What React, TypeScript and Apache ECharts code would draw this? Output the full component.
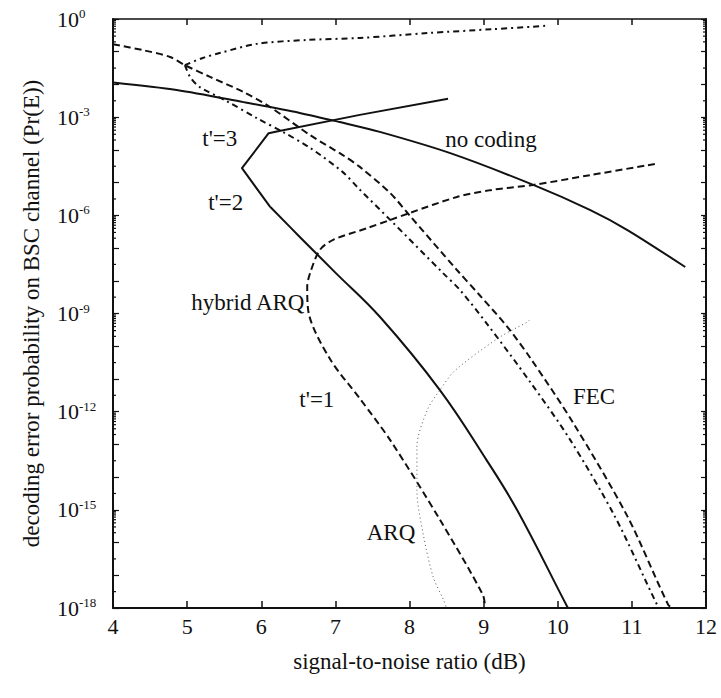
import React, { useEffect, useRef } from "react";
import * as echarts from "echarts";

// x: signal-to-noise ratio (dB); y: log10 of decoding error probability Pr(E)
const X_TICKS_MIN = 4;
const X_TICKS_MAX = 12;
const Y_LOG_MIN = -18;
const Y_LOG_MAX = 0;

const NO_CODING_SNR = [4, 4.86, 5.76, 6.52, 7.06, 7.6, 8.55, 9.67, 10.44, 10.94, 11.72];
const NO_CODING_LOGP = [-1.94, -2.17, -2.54, -2.87, -3.15, -3.45, -4.1, -5.07, -5.84, -6.45, -7.58];

const SOLID_UPPER_SNR = [8.52, 7.33, 6.21, 6.1, 5.74, 6.12];
const SOLID_UPPER_LOGP = [-2.44, -2.93, -3.44, -3.49, -4.56, -5.74];
const SOLID_LOWER_SNR = [6.12, 6.52, 7.0, 7.6, 8.41, 9.04, 9.45, 10.13, 10.14];
const SOLID_LOWER_LOGP = [-5.74, -6.66, -7.75, -9.1, -11.34, -13.48, -15.0, -17.97, -18];

const FEC_DASHED_SNR = [4, 4.4, 4.77, 4.97, 5.31, 5.76, 6.12, 6.66, 7.1, 7.33, 7.74, 8.0, 8.64, 8.95, 9.32, 9.63, 10.21, 10.94, 11.49, 11.55];
const FEC_DASHED_LOGP = [-0.77, -0.95, -1.16, -1.41, -1.77, -2.23, -2.69, -3.55, -4.16, -4.52, -5.32, -6.0, -7.67, -8.45, -9.41, -10.36, -12.35, -15.2, -17.9, -18];

const FEC_DASHDOT_SNR = [4.97, 5.04, 5.17, 5.51, 5.94, 6.29, 6.66, 7.1, 7.31, 7.74, 8.45, 8.68, 9.04, 9.63, 10.17, 10.77, 11.34, 11.38];
const FEC_DASHDOT_LOGP = [-1.41, -1.77, -2.08, -2.48, -3.03, -3.45, -3.94, -4.68, -5.17, -6.14, -7.76, -8.28, -9.3, -11.1, -12.87, -15.2, -17.9, -18];

const RISING_DASHDOT_SNR = [4.97, 5.21, 5.44, 5.94, 6.62, 7.33, 8.24, 9.13, 9.83];
const RISING_DASHDOT_LOGP = [-1.41, -1.19, -1.04, -0.76, -0.64, -0.58, -0.43, -0.31, -0.21];

const HYBRID_SNR = [11.31, 10.44, 9.67, 9.09, 8.64, 8.0, 7.74, 7.43, 6.97, 6.79, 6.66, 6.62, 6.64, 6.93, 7.33, 7.74, 8.41, 8.99, 9.02];
const HYBRID_LOGP = [-4.43, -4.77, -5.07, -5.23, -5.44, -5.93, -6.14, -6.39, -6.75, -7.06, -7.76, -8.19, -8.99, -10.4, -11.6, -12.87, -15.3, -17.6, -18];

const ARQ_SNR = [9.62, 9.59, 9.22, 8.62, 8.41, 8.24, 8.1, 8.1, 8.19, 8.32, 8.46, 8.5];
const ARQ_LOGP = [-9.2, -9.26, -9.72, -10.73, -11.34, -11.95, -13.08, -14.4, -15.8, -17.05, -17.76, -18];

const ANNOTATION_TEXT = ["t'=3", "t'=2", "hybrid ARQ", "t'=1", "no coding", "FEC", "ARQ"];
const ANNOTATION_SNR = [5.44, 5.52, 5.82, 6.75, 9.1, 10.49, 7.75];
const ANNOTATION_LOGP = [-3.64, -5.62, -8.65, -11.64, -3.67, -11.55, -15.68];

const Y_LABEL_EVERY = 3;
const MINOR_FACTORS = [2, 3, 4, 5, 6, 7, 8, 9];

const SERIF = "Liberation Serif";
const INK = "#111";

function pairs(xs: number[], ys: number[]) {
  return xs.map((x, i) => [x, ys[i]]);
}

function buildMinorTicks() {
  const out: number[][] = [];
  for (let e = Y_LOG_MAX; e > Y_LOG_MIN; e -= 1) {
    const inCluster = (Y_LOG_MAX - e) % Y_LABEL_EVERY === 0;
    if (inCluster) {
      MINOR_FACTORS.forEach((k) => {
        const v = e - 1 + Math.log10(k);
        out.push([0, v]);
        out.push([1, v]);
      });
    } else {
      out.push([0, e - 0.5]);
      out.push([1, e - 0.5]);
    }
  }
  return out;
}

export default function App() {
  const ref = useRef<HTMLDivElement | null>(null);

  useEffect(() => {
    if (!ref.current) return;
    const chart = echarts.init(ref.current, undefined, { renderer: "svg" });

    const lineBase = {
      type: "line" as const,
      symbol: "none",
      showSymbol: false,
      xAxisIndex: 0,
      yAxisIndex: 0,
      silent: true,
      z: 3,
    };

    const option: any = {
      animation: false,
      backgroundColor: "#ffffff",
      textStyle: { fontFamily: SERIF },
      grid: { left: 113, right: 15, top: 19, bottom: 90, containLabel: false },
      xAxis: [
        {
          type: "value",
          position: "bottom",
          min: X_TICKS_MIN,
          max: X_TICKS_MAX,
          interval: 1,
          axisLine: { show: true, onZero: false, lineStyle: { color: INK, width: 2 } },
          axisTick: { show: true, inside: true, length: 7, lineStyle: { color: INK, width: 1.5 } },
          axisLabel: { margin: 7, fontSize: 22, fontFamily: SERIF, color: INK },
          splitLine: { show: false },
          name: "signal-to-noise ratio (dB)",
          nameLocation: "middle",
          nameGap: 42,
          nameTextStyle: { fontSize: 23, fontFamily: SERIF, color: INK },
        },
        {
          type: "value",
          position: "top",
          min: X_TICKS_MIN,
          max: X_TICKS_MAX,
          interval: 1,
          axisLine: { show: true, onZero: false, lineStyle: { color: INK, width: 1.5 } },
          axisTick: { show: true, inside: true, length: 6, lineStyle: { color: INK, width: 1.5 } },
          axisLabel: { show: false },
          splitLine: { show: false },
        },
      ],
      yAxis: [
        {
          type: "value",
          position: "left",
          min: Y_LOG_MIN,
          max: Y_LOG_MAX,
          interval: 1,
          axisLine: { show: true, onZero: false, lineStyle: { color: INK, width: 2 } },
          axisTick: { show: true, inside: true, length: 6, lineStyle: { color: INK, width: 1.2 } },
          axisLabel: {
            align: "left",
            margin: 56,
            fontFamily: SERIF,
            formatter: (v: number) =>
              Math.round(v) % Y_LABEL_EVERY === 0 ? `{b|10}{s|${Math.round(v) === 0 ? "0" : Math.round(v)}}` : "",
            rich: {
              b: { fontSize: 22, fontFamily: SERIF, color: INK, lineHeight: 24 },
              s: { fontSize: 13, fontFamily: SERIF, color: INK, lineHeight: 13, verticalAlign: "top" },
            },
          },
          splitLine: { show: false },
          name: "decoding error probability on BSC channel (Pr(E))",
          nameLocation: "middle",
          nameGap: 70,
          nameRotate: 90,
          nameTextStyle: { fontSize: 23, fontFamily: SERIF, color: INK },
        },
        {
          type: "value",
          position: "right",
          min: Y_LOG_MIN,
          max: Y_LOG_MAX,
          interval: 1,
          axisLine: { show: true, onZero: false, lineStyle: { color: INK, width: 2 } },
          axisTick: { show: true, inside: true, length: 5, lineStyle: { color: INK, width: 1.2 } },
          axisLabel: { show: false },
          splitLine: { show: false },
        },
      ],
      series: [
        {
          ...lineBase,
          name: "no coding",
          smooth: 0.3,
          data: pairs(NO_CODING_SNR, NO_CODING_LOGP),
          lineStyle: { color: INK, width: 2, type: "solid" },
        },
        {
          ...lineBase,
          name: "t'=3 / t'=2 upper",
          smooth: false,
          data: pairs(SOLID_UPPER_SNR, SOLID_UPPER_LOGP),
          lineStyle: { color: INK, width: 2, type: "solid", join: "round" },
        },
        {
          ...lineBase,
          name: "t'=2 lower",
          smooth: 0.4,
          data: pairs(SOLID_LOWER_SNR, SOLID_LOWER_LOGP),
          lineStyle: { color: INK, width: 2, type: "solid" },
        },
        {
          ...lineBase,
          name: "FEC dashed",
          smooth: 0.3,
          data: pairs(FEC_DASHED_SNR, FEC_DASHED_LOGP),
          lineStyle: { color: INK, width: 2, type: [7, 4] },
        },
        {
          ...lineBase,
          name: "FEC dash-dot",
          smooth: 0.3,
          data: pairs(FEC_DASHDOT_SNR, FEC_DASHDOT_LOGP),
          lineStyle: { color: INK, width: 2, type: [6, 4, 2, 4] },
        },
        {
          ...lineBase,
          name: "rising dash-dot",
          smooth: 0.3,
          data: pairs(RISING_DASHDOT_SNR, RISING_DASHDOT_LOGP),
          lineStyle: { color: INK, width: 2, type: [6, 4, 2, 4] },
        },
        {
          ...lineBase,
          name: "hybrid ARQ t'=1",
          smooth: 0.3,
          data: pairs(HYBRID_SNR, HYBRID_LOGP),
          lineStyle: { color: INK, width: 2, type: [7, 4] },
        },
        {
          ...lineBase,
          name: "ARQ",
          smooth: 0.3,
          data: pairs(ARQ_SNR, ARQ_LOGP),
          lineStyle: { color: "#555", width: 1, type: [1, 3] },
        },
        {
          type: "custom",
          name: "minor ticks",
          silent: true,
          xAxisIndex: 0,
          yAxisIndex: 0,
          clip: false,
          data: buildMinorTicks(),
          renderItem: (params: any, api: any) => {
            const side = api.value(0);
            const v = api.value(1);
            const p = api.coord([side === 0 ? X_TICKS_MIN : X_TICKS_MAX, v]);
            const len = 3;
            return {
              type: "line",
              shape: { x1: p[0], y1: p[1], x2: side === 0 ? p[0] + len : p[0] - len, y2: p[1] },
              style: { stroke: INK, lineWidth: 1.2 },
            };
          },
        },
        {
          type: "custom",
          name: "annotations",
          silent: true,
          xAxisIndex: 0,
          yAxisIndex: 0,
          clip: false,
          z: 5,
          data: ANNOTATION_TEXT.map((t, i) => [ANNOTATION_SNR[i], ANNOTATION_LOGP[i], i]),
          renderItem: (params: any, api: any) => {
            const p = api.coord([api.value(0), api.value(1)]);
            const idx = api.value(2);
            return {
              type: "text",
              x: p[0],
              y: p[1],
              style: {
                text: ANNOTATION_TEXT[idx],
                fontSize: 23,
                fontFamily: SERIF,
                fill: INK,
                align: "center",
                verticalAlign: "middle",
              },
            };
          },
        },
      ],
    };

    chart.setOption(option);
    return () => {
      chart.dispose();
    };
  }, []);

  return (
    <div
      ref={ref}
      style={{ position: "fixed", left: 0, top: 0, width: 721, height: 698, background: "#fff" }}
    />
  );
}
